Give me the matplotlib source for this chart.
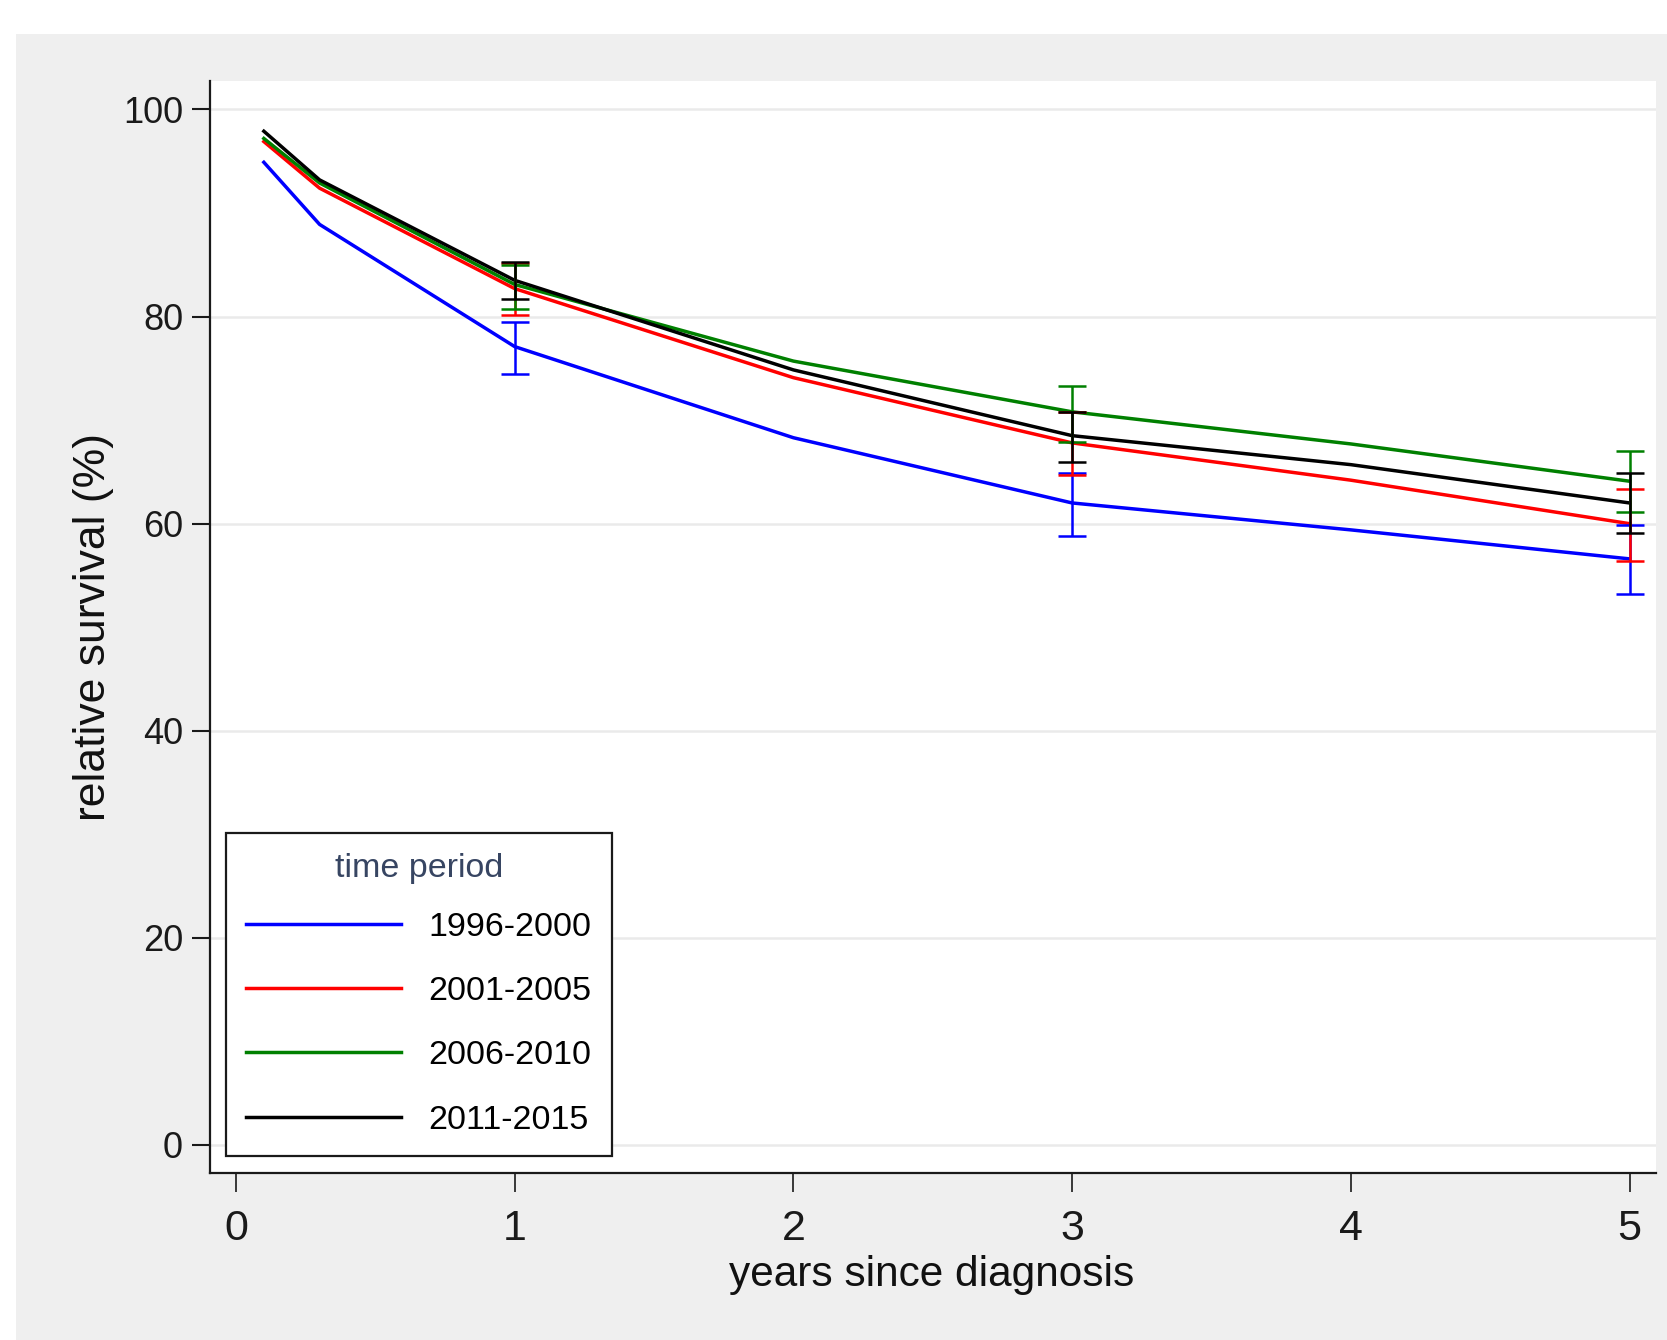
import matplotlib
import matplotlib.pyplot as plt
import numpy as np
from matplotlib.patches import Rectangle
from matplotlib.lines import Line2D

matplotlib.rcParams["font.family"] = ["Liberation Sans", "DejaVu Sans"]

# relative survival by time period
years = [0.1, 0.3, 1, 2, 3, 4, 5]
surv_1996 = [94.9, 88.9, 77.1, 68.3, 62.0, 59.4, 56.6]
surv_2001 = [96.9, 92.4, 82.7, 74.1, 67.8, 64.2, 60.0]
surv_2006 = [97.2, 92.9, 83.1, 75.7, 70.8, 67.7, 64.1]
surv_2011 = [97.9, 93.2, 83.5, 74.85, 68.5, 65.7, 62.0]

# 95% CI at 1, 3 and 5 years
ci_years = [1, 3, 5]
lo_1996 = [74.5, 58.85, 53.2]
hi_1996 = [79.5, 64.9, 59.9]
lo_2001 = [80.15, 64.7, 56.4]
hi_2001 = [85.2, 70.8, 63.35]
lo_2006 = [80.7, 67.9, 61.1]
hi_2006 = [85.0, 73.3, 67.05]
lo_2011 = [81.7, 66.0, 59.1]
hi_2011 = [85.3, 70.8, 64.9]

periods = ["1996-2000", "2001-2005", "2006-2010", "2011-2015"]
colors = ["#0000FF", "#FF0000", "#008000", "#000000"]
series = [surv_1996, surv_2001, surv_2006, surv_2011]
lows = [lo_1996, lo_2001, lo_2006, lo_2011]
highs = [hi_1996, hi_2001, hi_2006, hi_2011]

W, H = 1667, 1340
fig = plt.figure(figsize=(W / 100, H / 100), dpi=100)
fig.patch.set_facecolor("white")
# grey Stata-like background panel
fig.patches.append(Rectangle((16 / W, 0), 1 - 16 / W, 1 - 34 / H,
                             transform=fig.transFigure, facecolor="#EFEFEF",
                             edgecolor="none", zorder=-10))

left, right, top, bottom = 209.5, 1656, 81, 1172.6
ax = fig.add_axes([left / W, 1 - bottom / H, (right - left) / W, (bottom - top) / H])
ax.set_facecolor("white")

handles = []
for s, lo, hi, c, lab in zip(series, lows, highs, colors, periods):
    ax.plot(years, s, color=c, lw=2.5, label=lab, zorder=3)
    lo = np.array(lo)
    hi = np.array(hi)
    ax.errorbar(ci_years, (lo + hi) / 2, yerr=(hi - lo) / 2, fmt="none",
                ecolor=c, elinewidth=1.8, capsize=10, capthick=1.8, zorder=4)
    handles.append(Line2D([], [], color=c, lw=2.5))

ax.set_xlim(-0.095, 5.095)
ax.set_ylim(-2.67, 102.75)
ax.set_xticks([0, 1, 2, 3, 4, 5])
ax.set_yticks([0, 20, 40, 60, 80, 100])
ax.yaxis.grid(True, color="#EAEAEA", lw=1.8)
ax.set_axisbelow(True)

for sp in ["top", "right"]:
    ax.spines[sp].set_visible(False)
for sp in ["left", "bottom"]:
    ax.spines[sp].set_linewidth(1.6)
    ax.spines[sp].set_color("#1a1a1a")

ax.tick_params(axis="y", length=13, width=1.5, pad=6, labelsize=26, colors="#1a1a1a")
ax.tick_params(axis="x", length=14, width=1.2, pad=12, labelsize=31, colors="#1a1a1a")

fig.text(93.5 / W, 1 - 627 / H, "relative survival (%)", rotation=90,
         ha="center", va="center", fontsize=32, color="#111111")
fig.text(932 / W, 1 - 1275 / H, "years since diagnosis",
         ha="center", va="center", fontsize=30.5, color="#111111")

leg = ax.legend(handles, periods, title="time period", loc="lower left",
                bbox_to_anchor=(0.0114, 0.0152), borderaxespad=0, fontsize=24.5,
                title_fontsize=24.5, handlelength=4.55, handletextpad=0.8,
                labelspacing=0.98, borderpad=0.6, fancybox=False,
                edgecolor="#1a1a1a", framealpha=1)
leg._legend_box.sep = 19.5  # title a bit closer to the entries
leg.get_frame().set_linewidth(1.6)
leg.get_title().set_color("#374562")

plt.savefig("out.png", dpi=100)
